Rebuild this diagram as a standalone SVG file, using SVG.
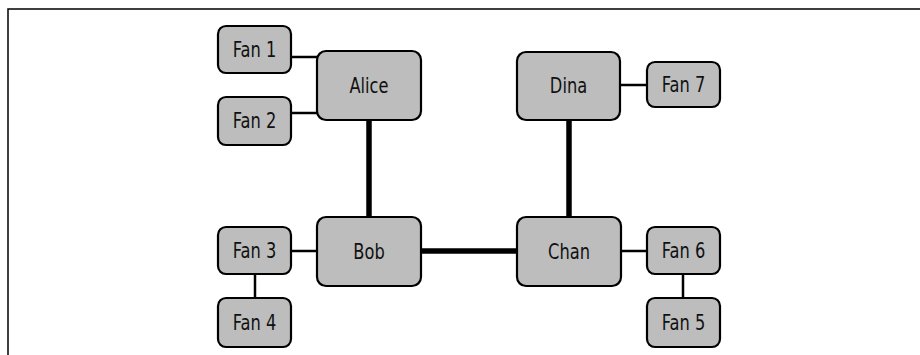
<svg xmlns="http://www.w3.org/2000/svg" width="920" height="355" viewBox="0 0 920 355">
  <style>
    .box { fill: #bdbdbd; stroke: #000; stroke-width: 2.2; }
    .lbl { font-family: "DejaVu Sans Condensed", "DejaVu Sans", sans-serif; font-stretch: condensed; font-size: 21px; fill: #111; text-anchor: middle; dominant-baseline: central; }
    .thin { stroke: #000; stroke-width: 2.5; fill: none; }
    .thick { stroke: #000; stroke-width: 5.5; fill: none; }
  </style>
  <rect width="920" height="355" fill="#fff"/>
  <!-- frame: top and left edges only -->
  <path d="M8 355 V9 H920" fill="none" stroke="#000" stroke-width="1.5"/>

  <g id="connectors">
    <line class="thin" x1="291" y1="57" x2="317" y2="57"/>
    <line class="thin" x1="291" y1="113" x2="317" y2="113"/>
    <line class="thin" x1="291" y1="251" x2="317" y2="251"/>
    <line class="thin" x1="255" y1="274" x2="255" y2="298"/>
    <line class="thin" x1="620" y1="85" x2="647" y2="85"/>
    <line class="thin" x1="621" y1="251" x2="647" y2="251"/>
    <line class="thin" x1="683" y1="274" x2="683" y2="298"/>
    <line class="thick" x1="369" y1="120" x2="369" y2="217"/>
    <line class="thick" x1="569" y1="120" x2="569" y2="217"/>
    <line class="thick" x1="421" y1="251" x2="517" y2="251"/>
  </g>

  <!-- labels are narrowed horizontally around their anchor -->
  <g id="alice"><rect class="box" x="317" y="51" width="104" height="69" rx="9"/><text class="lbl" transform="translate(369 86) scale(0.86 1)">Alice</text></g>
  <g id="bob"><rect class="box" x="317" y="217" width="104" height="69" rx="9"/><text class="lbl" transform="translate(369 252) scale(0.86 1)">Bob</text></g>
  <g id="dina"><rect class="box" x="517" y="52" width="103" height="68" rx="9"/><text class="lbl" transform="translate(568.5 86) scale(0.86 1)">Dina</text></g>
  <g id="chan"><rect class="box" x="517" y="217" width="104" height="69" rx="9"/><text class="lbl" transform="translate(569 252) scale(0.86 1)">Chan</text></g>

  <g id="fan1"><rect class="box" x="218" y="26" width="73" height="47" rx="8"/><text class="lbl" transform="translate(254.5 50) scale(0.86 1)">Fan 1</text></g>
  <g id="fan2"><rect class="box" x="218" y="97" width="73" height="48" rx="8"/><text class="lbl" transform="translate(254.5 121) scale(0.86 1)">Fan 2</text></g>
  <g id="fan3"><rect class="box" x="218" y="227" width="73" height="47" rx="8"/><text class="lbl" transform="translate(254.5 251) scale(0.86 1)">Fan 3</text></g>
  <g id="fan4"><rect class="box" x="218" y="298" width="73" height="49" rx="8"/><text class="lbl" transform="translate(254.5 323) scale(0.86 1)">Fan 4</text></g>
  <g id="fan7"><rect class="box" x="647" y="62" width="73" height="45" rx="8"/><text class="lbl" transform="translate(683.5 85) scale(0.86 1)">Fan 7</text></g>
  <g id="fan6"><rect class="box" x="647" y="227" width="73" height="47" rx="8"/><text class="lbl" transform="translate(683.5 251) scale(0.86 1)">Fan 6</text></g>
  <g id="fan5"><rect class="box" x="647" y="298" width="73" height="49" rx="8"/><text class="lbl" transform="translate(683.5 323) scale(0.86 1)">Fan 5</text></g>
</svg>
